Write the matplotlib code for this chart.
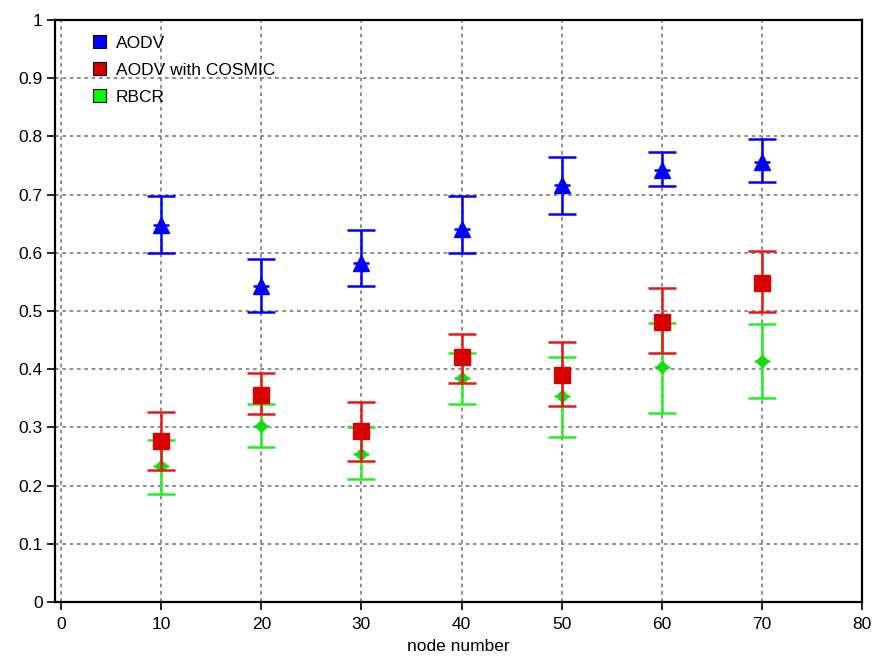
import matplotlib
matplotlib.use("Agg")
import matplotlib.pyplot as plt
from matplotlib.patches import Patch
import numpy as np

plt.rcParams['font.family'] = ['Liberation Sans', 'DejaVu Sans']

nodes = [10, 20, 30, 40, 50, 60, 70]

aodv_mean = [0.647, 0.543, 0.582, 0.641, 0.717, 0.743, 0.756]
aodv_low = [0.599, 0.498, 0.543, 0.599, 0.666, 0.714, 0.721]
aodv_high = [0.697, 0.589, 0.640, 0.697, 0.764, 0.774, 0.795]

cosmic_mean = [0.276, 0.356, 0.293, 0.421, 0.390, 0.481, 0.548]
cosmic_low = [0.226, 0.323, 0.243, 0.377, 0.337, 0.428, 0.498]
cosmic_high = [0.327, 0.394, 0.344, 0.461, 0.447, 0.539, 0.603]

rbcr_mean = [0.233, 0.303, 0.255, 0.385, 0.354, 0.404, 0.414]
rbcr_low = [0.185, 0.266, 0.212, 0.341, 0.283, 0.325, 0.351]
rbcr_high = [0.279, 0.341, 0.300, 0.428, 0.421, 0.480, 0.478]

labels = ["AODV", "AODV with COSMIC", "RBCR"]
x_ticks = [0, 10, 20, 30, 40, 50, 60, 70, 80]
y_ticks = [0, 0.1, 0.2, 0.3, 0.4, 0.5, 0.6, 0.7, 0.8, 0.9, 1]
y_tick_labels = ["0", "0.1", "0.2", "0.3", "0.4", "0.5", "0.6", "0.7", "0.8", "0.9", "1"]

W, H = 878, 658
fig = plt.figure(figsize=(W/100, H/100), dpi=100)
L, R, T, B = 55, 862, 20, 602
ax = fig.add_axes([L/W, 1 - B/H, (R-L)/W, (B-T)/H])

def err(mean, low, high):
    m = np.array(mean)
    return [m - np.array(low), np.array(high) - m]

blue = '#0000ff'
red_line = '#e81818'
red_mark = '#d80000'
green_line = '#22f022'
green_mark = '#11dd11'

series = [
    (rbcr_mean, rbcr_low, rbcr_high, 'D', green_mark, green_line, 6, 3),
    (cosmic_mean, cosmic_low, cosmic_high, 's', red_mark, red_line, 11, 4),
    (aodv_mean, aodv_low, aodv_high, '^', blue, blue, 11, 5),
]
for mean, low, high, mk, mc, lc, ms, z in series:
    ax.errorbar(nodes, mean, yerr=err(mean, low, high), fmt='none',
                ecolor=lc, capsize=10, elinewidth=1.8, capthick=1.8, zorder=z)
    ax.plot(nodes, mean, linestyle='none', marker='_', markersize=11,
            markeredgewidth=1.8, color=lc, zorder=z)
    ax.plot(nodes, mean, linestyle='none', marker=mk, markersize=ms,
            color=mc, markeredgecolor=mc, zorder=z + 0.5)

ax.set_xlim(-0.6, 80)
ax.set_ylim(0, 1)
ax.set_xticks(x_ticks)
ax.set_yticks(y_ticks)
ax.set_yticklabels(y_tick_labels)
ax.tick_params(direction='out', length=6, width=1.2, labelsize=12.5, pad=3)
ax.tick_params(axis='x', pad=5)
ax.grid(True, color='#7a7a7a', linestyle=(0, (2.2, 2.2)), linewidth=1.2)
ax.set_axisbelow(True)
for s in ax.spines.values():
    s.set_linewidth(1.6)
ax.set_xlabel("node number", fontsize=12.5, labelpad=5)

handles = [Patch(facecolor=blue, edgecolor='black', linewidth=0.8),
           Patch(facecolor=red_mark, edgecolor='black', linewidth=0.8),
           Patch(facecolor='#00ff00', edgecolor='black', linewidth=0.8)]
ax.legend(handles, labels, loc='upper left', bbox_to_anchor=(0.025, 1.004), frameon=False,
          fontsize=12.5, handlelength=0.8, handleheight=0.8, handletextpad=0.55,
          labelspacing=0.65, borderpad=0.5)

fig.savefig("out.png", dpi=100)
